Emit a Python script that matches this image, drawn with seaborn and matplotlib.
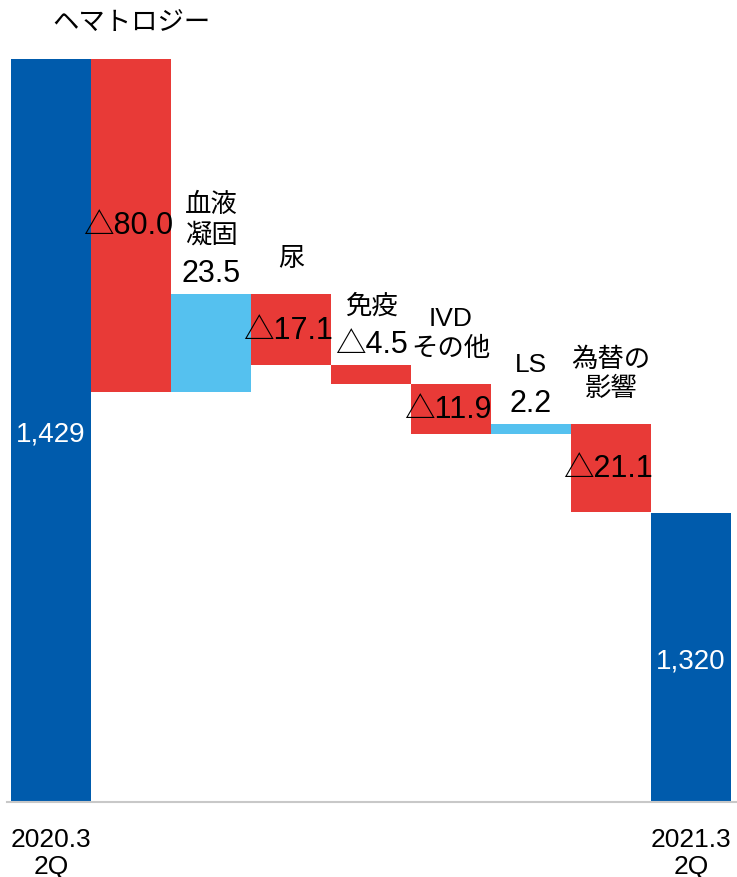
import numpy as np
import pandas as pd
import seaborn as sns
import matplotlib.pyplot as plt

categorias = ['2020.3\n2Q', 'ヘマトロジー', '血液\n凝固', '尿', '免疫',
              'IVD\nその他', 'LS', '為替の\n影響', '2021.3\n2Q']
inicio = 1429
fim = 1320
variacoes = [-80.0, 23.5, -17.1, -4.5, -11.9, 2.2, -21.1]
rotulos_total = ['1,429', '1,320']

cor_total = '#005BAC'
cor_queda = '#E83A37'
cor_alta = '#55C1EF'

# niveis acumulados, base e altura de cada barra
nivel = inicio + np.concatenate([[0], np.cumsum(variacoes)])
base = [0] + [min(a, b) for a, b in zip(nivel[:-1], nivel[1:])] + [0]
altura = [inicio] + [abs(v) for v in variacoes] + [fim]
cores = [cor_total] + [cor_alta if v > 0 else cor_queda for v in variacoes] + [cor_total]

df = pd.DataFrame({'categoria': categorias, 'altura': altura})

sns.set_style('white')
plt.rcParams['font.family'] = ['Liberation Sans', 'Noto Sans CJK JP']
plt.rcParams['text.color'] = 'black'
plt.rcParams['xtick.color'] = 'black'

fig = plt.figure(figsize=(7.37, 8.78), dpi=100)
ax = fig.add_axes([7 / 737, 75 / 878, 730 / 737, 743 / 878])

sns.barplot(data=df, x='categoria', y='altura', hue='categoria', order=categorias,
            hue_order=categorias, palette=dict(zip(categorias, cores)),
            saturation=1, width=1.0, linewidth=0, legend=False, ax=ax)

# desloca as barras para formar a cascata
for patch, b in zip(ax.patches, base):
    patch.set_y(b)

y_min = 1250.5
ax.set_ylim(y_min, inicio)
ax.set_xlim(-0.55, 8.575)

px = 0.72  # pontos por pixel

# rotulos das variacoes
for i, v in enumerate(variacoes, start=1):
    topo = base[i] + altura[i]
    texto = f'{v:.1f}' if v > 0 else f'△{abs(v):.1f}'
    nome = categorias[i]
    if v > 0 or abs(v) < 10:
        ax.annotate(texto, (i, topo), xytext=(0, 6 * px), textcoords='offset points',
                    ha='center', va='bottom', fontsize=22, annotation_clip=False)
        desl = 48
    else:
        ax.annotate(texto, (i, base[i] + altura[i] / 2), xytext=(-3 * px, 0),
                    textcoords='offset points', ha='center', va='center',
                    fontsize=22, annotation_clip=False)
        desl = 24
    ax.annotate(nome, (i, topo), xytext=(0, desl * px), textcoords='offset points',
                ha='center', va='bottom', fontsize=19, linespacing=1.3,
                annotation_clip=False)

# totais dentro das barras azuis
for i, txt, val in [(0, rotulos_total[0], inicio), (8, rotulos_total[1], fim)]:
    ax.text(i, (y_min + val) / 2, txt, ha='center', va='center_baseline',
            color='white', fontsize=20)

ax.set_xticks(range(len(categorias)))
ax.set_xticklabels([categorias[0]] + [''] * 7 + [categorias[-1]], fontsize=19)
for t in ax.get_xticklabels():
    t.set_linespacing(1.15)
ax.tick_params(axis='x', length=0, pad=18)
ax.set_yticks([])
ax.set_xlabel('')
ax.set_ylabel('')

for lado in ['top', 'left', 'right']:
    ax.spines[lado].set_visible(False)
ax.spines['bottom'].set_color('#C8C8C8')
ax.spines['bottom'].set_linewidth(1.5)

fig.savefig('out.png', dpi=100)
